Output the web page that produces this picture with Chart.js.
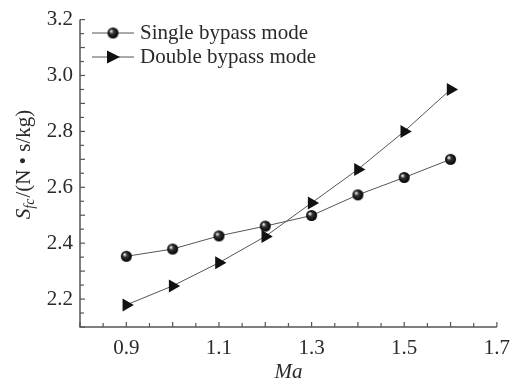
<!DOCTYPE html>
<html>
<head>
<meta charset="utf-8">
<script src="https://cdn.jsdelivr.net/npm/chart.js@4/dist/chart.umd.min.js"></script>
<style>
  html, body { margin: 0; padding: 0; background: #fff; }
  #wrap { width: 519px; height: 385px; }
</style>
</head>
<body>
<div id="wrap"><canvas id="chart" width="519" height="385"></canvas></div>
<script>
// data
const machNumbers = [0.9, 1.0, 1.1, 1.2, 1.3, 1.4, 1.5, 1.6];
const singleBypass = [2.353, 2.379, 2.426, 2.461, 2.499, 2.573, 2.635, 2.700];
const doubleBypass = [2.179, 2.247, 2.330, 2.424, 2.544, 2.664, 2.800, 2.950];
const seriesNames = ['Single bypass mode', 'Double bypass mode'];

const serif = "'Liberation Serif', 'DejaVu Serif', serif";
const ink = '#2a2a2a';
const axisColor = '#555';
const fontSize = 21;

// little shaded ball for the single bypass markers
function makeBall(r) {
    let c = document.createElement('canvas');
    c.width = c.height = r * 2 + 2;
    let g = c.getContext('2d');
    let grad = g.createRadialGradient(r - 1, r - 1, 0.5, r + 1, r + 1, r);
    grad.addColorStop(0, '#eee');
    grad.addColorStop(0.35, '#333');
    grad.addColorStop(1, '#000');
    g.fillStyle = grad;
    g.beginPath();
    g.arc(r + 1, r + 1, r, 0, Math.PI * 2);
    g.fill();
    return c;
}
const ball = makeBall(5.5);

function toPoints(ys) {
    return machNumbers.map((x, i) => ({ x: x, y: ys[i] }));
}

// axes, inward ticks, legend and the y title are drawn by hand
const decorations = {
    id: 'decorations',
    afterDraw(chart) {
        let ctx = chart.ctx;
        let xs = chart.scales.x, ys = chart.scales.y;
        let area = chart.chartArea;
        ctx.save();
        ctx.strokeStyle = axisColor;
        ctx.lineWidth = 1.5;
        ctx.beginPath();
        ctx.moveTo(area.left, area.top);
        ctx.lineTo(area.left, area.bottom);
        ctx.lineTo(area.right, area.bottom);
        ctx.stroke();

        ctx.lineWidth = 1.2;
        for (let k = 16; k <= 34; k++) {
            let px = xs.getPixelForValue(k * 0.05);
            let len = (k % 2 === 0) ? 5 : 4;
            ctx.beginPath();
            ctx.moveTo(px, area.bottom);
            ctx.lineTo(px, area.bottom - len);
            ctx.stroke();
        }
        for (let k = 42; k <= 64; k++) {
            let py = ys.getPixelForValue(k * 0.05);
            let len = (k % 2 === 0) ? 5 : 4;
            ctx.beginPath();
            ctx.moveTo(area.left, py);
            ctx.lineTo(area.left + len, py);
            ctx.stroke();
        }

        // legend
        let rows = [33, 57];
        chart.data.datasets.forEach((ds, i) => {
            let y = rows[i];
            ctx.strokeStyle = '#555';
            ctx.lineWidth = 1;
            ctx.beginPath();
            ctx.moveTo(92, y);
            ctx.lineTo(134, y);
            ctx.stroke();
            if (i === 0) {
                ctx.drawImage(ball, 113 - ball.width / 2, y - ball.height / 2);
            } else {
                ctx.fillStyle = '#111';
                ctx.beginPath();
                ctx.moveTo(120, y);
                ctx.lineTo(107, y - 6.5);
                ctx.lineTo(107, y + 6.5);
                ctx.closePath();
                ctx.fill();
            }
            ctx.fillStyle = ink;
            ctx.font = fontSize + 'px ' + serif;
            ctx.textBaseline = 'middle';
            ctx.textAlign = 'left';
            ctx.fillText(ds.label, 140, y);
        });

        // y title: S_fc/(N · s/kg)
        ctx.translate(24, 165);
        ctx.rotate(-Math.PI / 2);
        ctx.textBaseline = 'middle';
        ctx.textAlign = 'left';
        let big = '21px ' + serif, bigIt = 'italic 21px ' + serif, small = 'italic 14px ' + serif;
        let rest = '/(N \u2022 s/kg)';
        ctx.font = bigIt; let wS = ctx.measureText('S').width;
        ctx.font = small; let wSub = ctx.measureText('fc').width;
        ctx.font = big; let wRest = ctx.measureText(rest).width;
        let x0 = -(wS + wSub + wRest) / 2;
        ctx.fillStyle = ink;
        ctx.font = bigIt; ctx.fillText('S', x0, 0);
        ctx.font = small; ctx.fillText('fc', x0 + wS, 6);
        ctx.font = big; ctx.fillText(rest, x0 + wS + wSub + 1, 0);
        ctx.restore();
    }
};

new Chart(document.getElementById('chart').getContext('2d'), {
    type: 'line',
    data: {
        datasets: [
            {
                label: seriesNames[0],
                data: toPoints(singleBypass),
                borderColor: '#555',
                borderWidth: 1,
                pointStyle: ball,
                pointRadius: 5.5
            },
            {
                label: seriesNames[1],
                data: toPoints(doubleBypass),
                borderColor: '#555',
                borderWidth: 1,
                backgroundColor: '#111',
                pointBackgroundColor: '#111',
                pointBorderColor: '#111',
                pointBorderWidth: 0,
                pointStyle: 'triangle',
                pointRotation: 90,
                pointRadius: 7.5
            }
        ]
    },
    options: {
        responsive: false,
        animation: false,
        layout: { padding: { top: 16, right: 20, left: 0, bottom: 0 } },
        plugins: { legend: { display: false }, tooltip: { enabled: false } },
        scales: {
            x: {
                type: 'linear',
                min: 0.8,
                max: 1.7,
                grid: { display: false, drawTicks: false },
                border: { display: false },
                ticks: {
                    stepSize: 0.1,
                    autoSkip: false,
                    maxRotation: 0,
                    padding: 9,
                    color: ink,
                    font: { family: serif, size: fontSize },
                    callback: v => {
                        let k = Math.round(v * 10);
                        return k % 2 === 1 ? (k / 10).toFixed(1) : '';
                    }
                },
                title: {
                    display: true,
                    text: 'Ma',
                    color: ink,
                    padding: { top: -2, bottom: 0 },
                    font: { family: serif, size: fontSize, style: 'italic' }
                },
                afterFit: s => { s.height = 58; }
            },
            y: {
                type: 'linear',
                min: 2.1,
                max: 3.2,
                grid: { display: false, drawTicks: false },
                border: { display: false },
                ticks: {
                    stepSize: 0.1,
                    autoSkip: false,
                    padding: 7,
                    color: ink,
                    font: { family: serif, size: fontSize },
                    callback: v => {
                        let k = Math.round(v * 10);
                        return k % 2 === 0 ? (k / 10).toFixed(1) : '';
                    }
                },
                afterFit: s => { s.width = 80; }
            }
        }
    },
    plugins: [decorations]
});
</script>
</body>
</html>
